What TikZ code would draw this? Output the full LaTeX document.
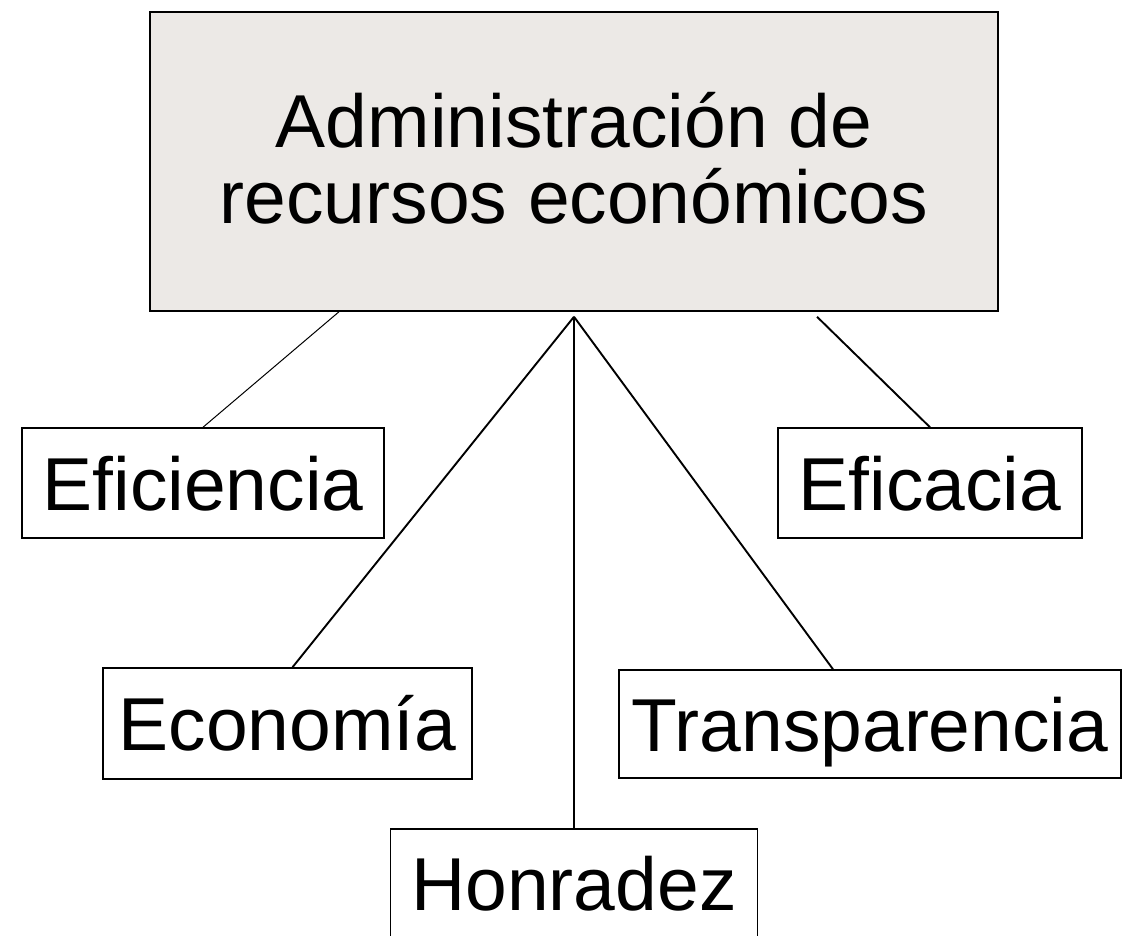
\documentclass[tikz,border=0pt]{standalone}
\usepackage{fontspec}
\setmainfont{Liberation Sans}
\usepackage{tikz}
\usetikzlibrary{positioning,calc}
\definecolor{topfill}{RGB}{236,233,230}
\tikzset{box/.style={draw,line width=1.5pt,inner sep=0pt,text height=54pt,text depth=0pt,
                     font=\fontsize{75}{76}\selectfont},
         topbox/.style={box,fill=topfill,align=center,text height=130pt,text depth=7pt},
         edge/.style={-, line width=1.9pt},
         thinedge/.style={-, line width=1pt}
}

\begin{document}
\begin{tikzpicture}[x=1pt,y=-1pt]
       \useasboundingbox (0,0) rectangle (1125,935);
       \node[topbox, minimum width=848pt, minimum height=299pt] (top) at (574,161.5)
            {Administración de\\recursos económicos};
       \node[box, minimum width=362pt, minimum height=110pt] (efic) at (203,483) {Eficiencia};
       \node[box, minimum width=304pt, minimum height=110pt] (efica) at (930,483) {Eficacia};
       \node[box, minimum width=369pt, minimum height=111pt] (econ) at (287.5,723.5) {Economía};
       \node[box, minimum width=502pt, minimum height=108pt] (transp) at (870,724) {Transparencia};
       \node[box, minimum width=367pt, minimum height=108pt] (honr) at (574,883) {Honradez};
       \coordinate (hub) at ([yshift=-5pt]top.south);
       \draw[thinedge] ([xshift=-235pt]top.south) -- (efic.north);
       \draw[edge] ([xshift=243pt,yshift=-5pt]top.south) -- (efica.north);
       \draw[edge] (hub) -- ([xshift=5pt]econ.north);
       \draw[edge] (hub) -- (honr.north);
       \draw[edge] (hub) -- ([xshift=-37pt]transp.north);
     \end{tikzpicture}
\end{document}
